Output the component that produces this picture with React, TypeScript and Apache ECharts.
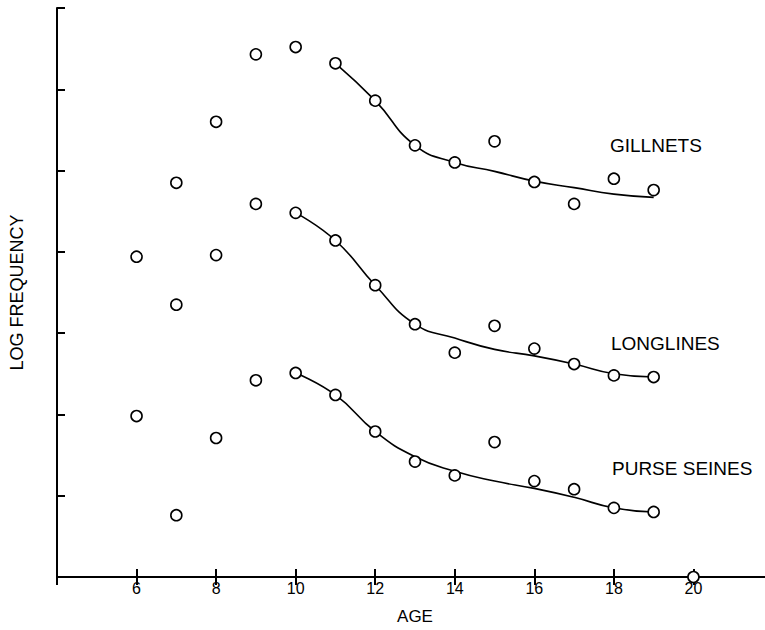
import React, { useEffect, useRef } from "react";
import * as echarts from "echarts";

// Observed points (log frequency by age)
const gillnetAges = [7, 8, 9, 10, 11, 12, 13, 14, 15, 16, 17, 18, 19];
const gillnetObs = [4.85, 5.6, 6.43, 6.52, 6.32, 5.86, 5.31, 5.1, 5.36, 4.86, 4.59, 4.9, 4.76];

const longlineAges = [6, 7, 8, 9, 10, 11, 12, 13, 14, 15, 16, 17, 18, 19];
const longlineObs = [3.94, 3.35, 3.96, 4.59, 4.48, 4.14, 3.59, 3.11, 2.76, 3.09, 2.81, 2.62, 2.48, 2.46];

const purseAges = [6, 7, 8, 9, 10, 11, 12, 13, 14, 15, 16, 17, 18, 19, 20];
const purseObs = [1.98, 0.76, 1.71, 2.42, 2.51, 2.24, 1.79, 1.42, 1.25, 1.66, 1.18, 1.08, 0.85, 0.8, 0];

// Fitted curves
const gillnetFitAges = [11, 12, 13, 14, 15, 16, 17, 18, 19];
const gillnetFit = [6.32, 5.86, 5.31, 5.1, 4.99, 4.87, 4.79, 4.71, 4.67];

const longlineFitAges = [10, 11, 12, 13, 14, 15, 16, 17, 18, 19];
const longlineFit = [4.48, 4.14, 3.59, 3.11, 2.94, 2.8, 2.72, 2.62, 2.5, 2.46];

const purseFitAges = [10, 11, 12, 13, 14, 15, 16, 17, 18, 19];
const purseFit = [2.51, 2.24, 1.79, 1.48, 1.3, 1.18, 1.09, 0.98, 0.85, 0.8];

const xTickLabels = ["6", "8", "10", "12", "14", "16", "18", "20"];

const pair = (xs: number[], ys: number[]) => xs.map((x, i) => [x, ys[i]]);

const FONT = "'Liberation Sans', Arial, sans-serif";

export default function App() {
  const ref = useRef<HTMLDivElement>(null);

  useEffect(() => {
    if (!ref.current) return;
    const chart = echarts.init(ref.current, undefined, { renderer: "svg" });

    const axisLine = { show: true, lineStyle: { color: "#000", width: 2 } };
    const axisTick = { show: true, inside: true, length: 8, lineStyle: { color: "#000", width: 2 } };

    const scatterStyle = {
      type: "scatter" as const,
      symbol: "circle",
      symbolSize: 11,
      clip: false,
      itemStyle: { color: "#fff", borderColor: "#000", borderWidth: 1.6, opacity: 1 },
      z: 5,
    };
    const lineStyle = {
      type: "line" as const,
      smooth: 0.5,
      symbol: "none",
      lineStyle: { color: "#000", width: 1.6 },
      z: 3,
    };

    chart.setOption({
      animation: false,
      backgroundColor: "#fff",
      grid: { left: 54, top: 8, bottom: 53, right: 0 },
      xAxis: [
        {
          type: "value",
          position: "bottom",
          min: 4,
          max: 22,
          interval: 2,
          name: "AGE",
          nameLocation: "middle",
          nameGap: 31,
          nameTextStyle: { color: "#000", fontSize: 17, fontFamily: FONT },
          axisLine,
          axisTick,
          splitLine: { show: false },
          axisLabel: {
            color: "#000",
            fontSize: 16,
            fontFamily: FONT,
            margin: 3,
            showMinLabel: false,
            showMaxLabel: false,
            formatter: (v: number) => (xTickLabels.includes(String(v)) ? String(v) : ""),
          },
        },
        {
          type: "value",
          position: "top",
          min: 4,
          max: 22,
          interval: 2,
          axisLine,
          axisTick,
          axisLabel: { show: false },
          splitLine: { show: false },
        },
      ],
      yAxis: [
        {
          type: "value",
          position: "left",
          min: 0,
          max: 7,
          interval: 1,
          name: "LOG FREQUENCY",
          nameLocation: "middle",
          nameGap: 31,
          nameTextStyle: { color: "#000", fontSize: 18, fontFamily: FONT },
          axisLine,
          axisTick,
          axisLabel: { show: false },
          splitLine: { show: false },
        },
        {
          type: "value",
          position: "right",
          min: 0,
          max: 7,
          interval: 1,
          axisLine: { show: false },
          axisTick,
          axisLabel: { show: false },
          splitLine: { show: false },
        },
      ],
      series: [
        { ...lineStyle, name: "Gillnets fit", data: pair(gillnetFitAges, gillnetFit) },
        { ...lineStyle, name: "Longlines fit", data: pair(longlineFitAges, longlineFit) },
        { ...lineStyle, name: "Purse seines fit", data: pair(purseFitAges, purseFit) },
        { ...scatterStyle, name: "Gillnets", data: pair(gillnetAges, gillnetObs) },
        { ...scatterStyle, name: "Longlines", data: pair(longlineAges, longlineObs) },
        { ...scatterStyle, name: "Purse seines", data: pair(purseAges, purseObs) },
      ],
      graphic: [
        {
          type: "text",
          left: 610,
          top: 136,
          style: { text: "GILLNETS", fill: "#000", font: `19px ${FONT}` },
        },
        {
          type: "text",
          left: 611,
          top: 334,
          style: { text: "LONGLINES", fill: "#000", font: `19px ${FONT}` },
        },
        {
          type: "text",
          left: 612,
          top: 459,
          style: { text: "PURSE SEINES", fill: "#000", font: `19px ${FONT}` },
        },
      ],
    });

    return () => chart.dispose();
  }, []);

  return (
    <div
      ref={ref}
      style={{ position: "fixed", left: 0, top: 0, width: 773, height: 630, background: "#fff" }}
    />
  );
}
